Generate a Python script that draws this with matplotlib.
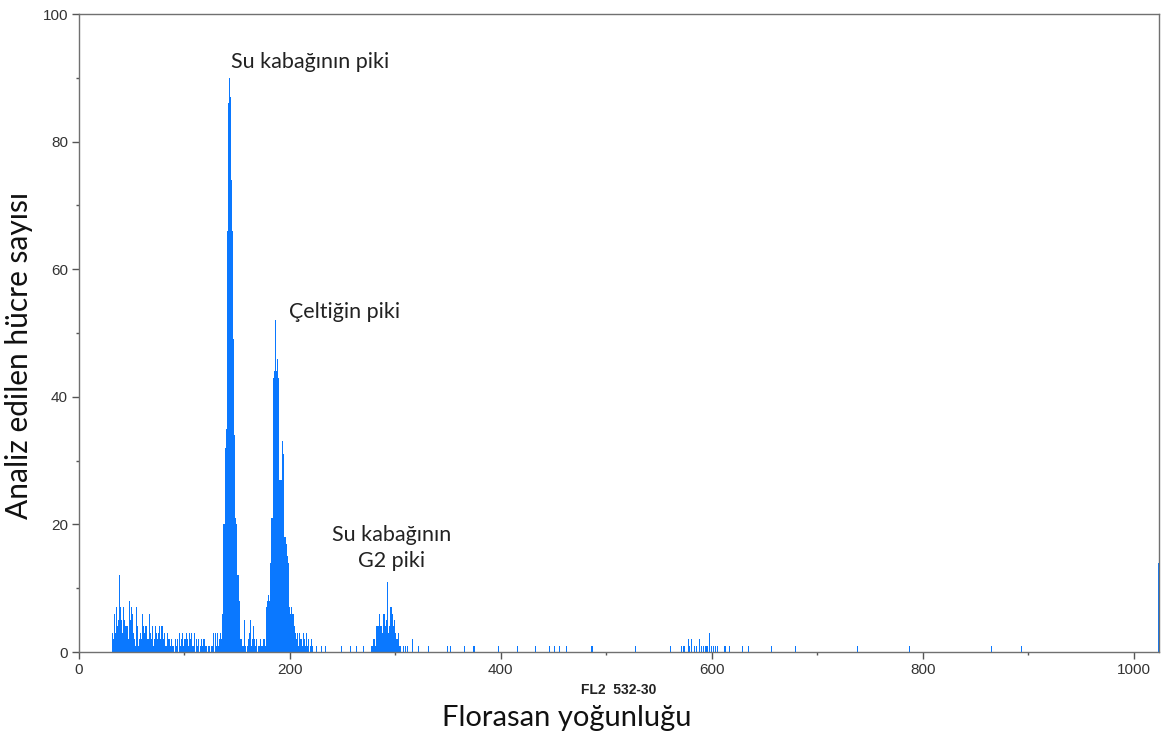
import numpy as np
import matplotlib.pyplot as plt
from matplotlib.ticker import MultipleLocator

# channel counts
low_start = 31
low_counts = [
    3, 2, 6, 3, 7, 4, 5, 12, 7, 5,
    3, 7, 5, 4, 4, 2, 8, 5, 7, 6,
    3, 2, 1, 7, 4, 1, 2, 3, 2, 6,
    4, 3, 4, 2, 2, 6, 3, 2, 4, 1,
    2, 4, 3, 2, 3, 4, 2, 4, 4, 2,
    3, 1, 3, 2, 2, 1, 2, 1, 1, 0,
    2, 1, 2, 0, 3, 1, 2, 3, 1, 2,
    3, 2, 1, 3, 2, 3, 1, 1, 3, 0,
    2, 1, 2, 0, 1, 2, 1, 2, 1, 1,
    0, 1, 1, 0, 1, 1, 3, 0, 3, 1,
    3, 1, 2, 3, 2, 6, 20, 32, 35, 66,
    86, 90, 87, 74, 66, 49, 34, 21, 20, 12,
    12, 8, 2, 2, 1, 5, 1, 0, 1, 2,
    3, 5, 1, 2, 4, 2, 1, 2, 0, 1,
    1, 2, 1, 2, 2, 1, 7, 8, 9, 8,
    14, 21, 21, 43, 44, 52, 44, 46, 43, 27,
    27, 33, 31, 18, 18, 17, 15, 14, 7, 6,
    7, 6, 6, 4, 3, 2, 3, 1, 3, 2,
    1, 3, 2, 1, 3, 1, 2, 0, 1, 2,
    1, 0, 0, 0, 1, 0, 0, 0, 1, 0,
    0, 0, 1,
]

g2_start = 277
g2_counts = [
    1, 1, 2, 2, 1, 4, 4, 6, 4, 4,
    3, 6, 6, 4, 5, 11, 3, 4, 7, 7,
    6, 4, 5, 3, 2, 3, 1, 1, 0, 0,
    1, 0, 1, 0, 1,
]

sparse_channels = [248, 257, 263, 269, 316, 321, 331, 349, 352, 365, 374, 397,
                   415, 432, 446, 450, 455, 462, 485, 486, 527, 560, 571, 573,
                   574, 577, 578, 580, 583, 585, 588, 590, 592, 594, 595, 597,
                   599, 601, 603, 605, 612, 616, 629, 634, 656, 679, 738, 787,
                   865, 893, 1023]
sparse_counts = [1, 1, 1, 1, 2, 1, 1, 1, 1, 1, 1, 1,
                 1, 1, 1, 1, 1, 1, 1, 1, 1, 1, 1, 1,
                 1, 2, 1, 2, 1, 1, 2, 1, 1, 1, 1, 3,
                 1, 1, 1, 1, 1, 1, 1, 1, 1, 1, 1, 1,
                 1, 1, 14]

counts = np.zeros(1024)
counts[low_start:low_start + len(low_counts)] = low_counts
counts[g2_start:g2_start + len(g2_counts)] = g2_counts
counts[sparse_channels] = sparse_counts
channels = np.arange(1024)

fig = plt.figure(figsize=(11.61, 7.42), dpi=100)
ax = fig.add_axes([79 / 1161, 1 - 652 / 742, 1080 / 1161, 638 / 742])

ax.bar(channels, counts, width=1.0, align='edge', color='#0a78ff', linewidth=0)

ax.set_xlim(0, 1024)
ax.set_ylim(0, 100)
ax.xaxis.set_major_locator(MultipleLocator(200))
ax.xaxis.set_minor_locator(MultipleLocator(100))
ax.yaxis.set_major_locator(MultipleLocator(20))
ax.yaxis.set_minor_locator(MultipleLocator(10))
for s in ax.spines.values():
    s.set_color('#707070')
    s.set_linewidth(1.0)
ax.tick_params(which='major', direction='out', length=5, width=1, color='#555555',
               labelsize=11, labelcolor='#333333', pad=3)
ax.tick_params(which='minor', direction='out', length=2.5, width=1, color='#555555')
for lab in ax.get_xticklabels() + ax.get_yticklabels():
    lab.set_family('Liberation Sans')

ax.set_xlabel('FL2  532-30', fontsize=10, fontweight='bold', family='Liberation Sans',
              color='#222222', labelpad=4)

txt = dict(family='Lato', fontsize=15.5, color='#222222')
ax.text(144, 92.5, 'Su kabağının piki', ha='left', va='center', **txt)
ax.text(199, 53.3, 'Çeltiğin piki', ha='left', va='center', **txt)
ax.text(296, 16.3, 'Su kabağının\nG2 piki', ha='center', va='center',
        multialignment='center', linespacing=1.4, **txt)

fig.text(567 / 1161, 1 - 718 / 742, 'Florasan yoğunluğu', ha='center', va='center',
         family='Lato', fontsize=21, color='#111111')
fig.text(19 / 1161, 1 - 355 / 742, 'Analiz edilen hücre sayısı', ha='center', va='center',
         rotation=90, family='Lato', fontsize=21.5, color='#111111')

fig.savefig('out.png', dpi=100)
